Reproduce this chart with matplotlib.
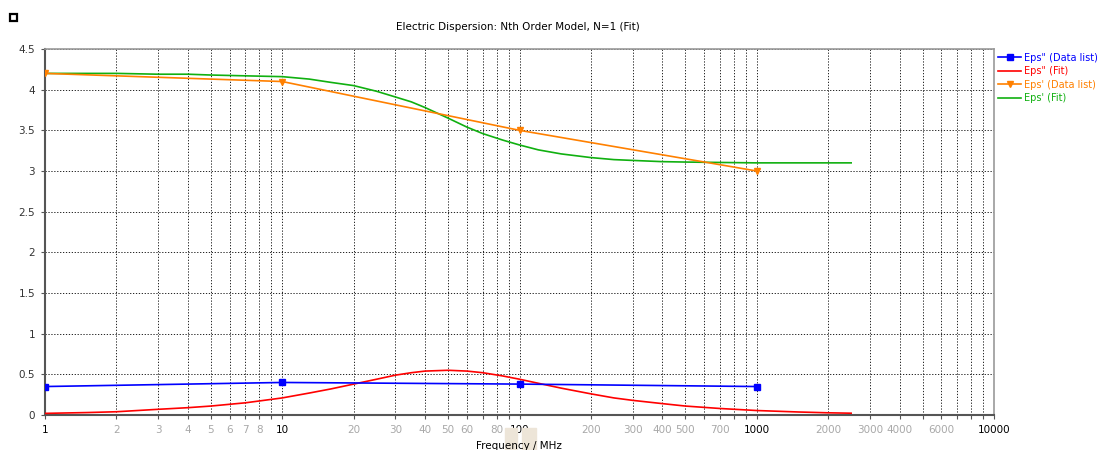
import matplotlib.pyplot as plt
from matplotlib.patches import Rectangle

# data lists (MHz)
freq_data = [1, 10, 100, 1000]
eps2_data = [0.35, 0.40, 0.38, 0.35]
eps1_data = [4.20, 4.10, 3.50, 3.00]

# fit curves
freq_fit = [1, 1.5, 2, 3, 4, 5, 7, 10, 13, 16, 20, 25, 30, 35, 40, 50, 60, 70, 85,
            100, 120, 150, 200, 250, 300, 400, 500, 700, 1000, 1500, 2000, 2500]
eps2_fit = [0.02, 0.03, 0.04, 0.07, 0.09, 0.11, 0.15, 0.21, 0.27, 0.32, 0.38, 0.44,
            0.49, 0.52, 0.54, 0.55, 0.54, 0.52, 0.48, 0.44, 0.39, 0.33, 0.26, 0.21,
            0.18, 0.14, 0.11, 0.08, 0.055, 0.037, 0.027, 0.022]
eps1_fit = [4.20, 4.20, 4.20, 4.19, 4.19, 4.18, 4.17, 4.16, 4.13, 4.09, 4.05, 3.98,
            3.91, 3.85, 3.78, 3.65, 3.54, 3.46, 3.38, 3.32, 3.26, 3.21, 3.165, 3.14,
            3.13, 3.115, 3.11, 3.105, 3.10, 3.10, 3.10, 3.10]

major_ticks = [1, 10, 100, 1000, 10000]
minor_labeled = [2, 3, 4, 5, 6, 7, 8, 20, 30, 40, 50, 60, 80,
                 200, 300, 400, 500, 700, 2000, 3000, 4000, 6000]
y_ticks = [0, 0.5, 1, 1.5, 2, 2.5, 3, 3.5, 4, 4.5]

fig = plt.figure(figsize=(11.01, 4.5), dpi=100)
ax = fig.add_axes([45/1101, 1 - 415/450, (994 - 45)/1101, (415 - 49)/450])

ax.plot(freq_data, eps2_data, color='#0000FF', lw=1.2, marker='s', ms=4.5,
        label='Eps" (Data list)', zorder=4)
ax.plot(freq_fit, eps2_fit, color='#FF0000', lw=1.2, label='Eps" (Fit)', zorder=3)
ax.plot(freq_data, eps1_data, color='#FF8000', lw=1.2, marker='v', ms=5,
        label="Eps' (Data list)", zorder=4)
ax.plot(freq_fit, eps1_fit, color='#10B010', lw=1.2, label="Eps' (Fit)", zorder=3)

ax.set_xscale('log')
ax.set_xlim(1, 10000)
ax.set_ylim(0, 4.5)

ax.set_xticks(major_ticks)
ax.set_xticklabels([str(t) for t in major_ticks], color='black')
all_minor = [m * d for d in [1, 10, 100, 1000] for m in range(2, 10)]
ax.set_xticks(all_minor, minor=True)
ax.set_xticklabels([str(t) if t in minor_labeled else '' for t in all_minor],
                   minor=True, color='#A8A8A8')
ax.set_yticks(y_ticks)
ax.set_yticklabels(['%g' % v for v in y_ticks], color='#333333')

ax.tick_params(axis='both', which='both', labelsize=7.5, length=3, width=0.8,
               color='#555555', pad=4)

ax.grid(True, which='both', color='black', linestyle=(0, (1.5, 2)), linewidth=0.6)

for side in ['left', 'bottom']:
    ax.spines[side].set_color('#555555')
    ax.spines[side].set_linewidth(1.5)
for side in ['top', 'right']:
    ax.spines[side].set_color('#999999')
    ax.spines[side].set_linewidth(1.2)

fig.text(518/1101, 1 - 27/450, 'Electric Dispersion: Nth Order Model, N=1 (Fit)',
         ha='center', va='center', fontsize=7.5)

# beige overlay behind the axis label
fig.patches.append(Rectangle((505/1101, 0), 12/1101, 22/450, transform=fig.transFigure,
                             color='#EDE5D8', zorder=0))
fig.patches.append(Rectangle((522/1101, 0), 14/1101, 22/450, transform=fig.transFigure,
                             color='#EDE5D8', zorder=0))
fig.text(519/1101, 1 - 446/450, 'Frequency / MHz', ha='center', va='center', fontsize=7.5)

# small square icon top left
fig.patches.append(Rectangle((10/1101, 1 - 21/450), 7/1101, 7/450, transform=fig.transFigure,
                             facecolor='white', edgecolor='black', lw=1.6))

leg = ax.legend(loc='upper left', bbox_to_anchor=(1.0, 1.0), frameon=False,
                fontsize=7, handlelength=2.4, handletextpad=0.3, labelspacing=0.35,
                borderaxespad=0.2, borderpad=0.2, markerscale=0.9)
for txt, line in zip(leg.get_texts(), leg.get_lines()):
    txt.set_color(line.get_color())

fig.savefig('out.png', dpi=100)
